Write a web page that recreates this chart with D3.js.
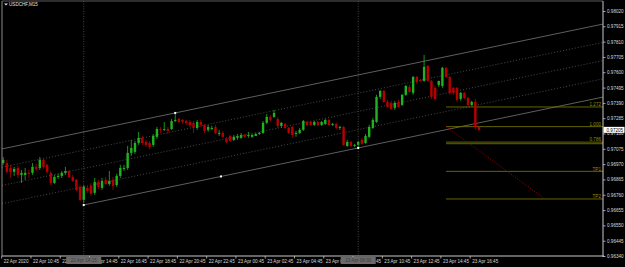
<!DOCTYPE html>
<html>
<head>
<meta charset="utf-8">
<script src="https://cdn.jsdelivr.net/npm/d3@7"></script>
<style>
html, body { margin: 0; padding: 0; background: #000; }
svg { display: block; }
text { font-family: "Liberation Sans", Arial, sans-serif; }
</style>
</head>
<body>
<svg id="chart" width="625" height="267"></svg>
<script>
const symbolTitle = 'USDCHF,M15';

// M15 bars, first bar 22 Apr 08:45
const barOpen = [
  0.96978, 0.96978, 0.96944, 0.96917, 0.96944, 0.96896, 0.96896, 0.96910, 0.96910, 0.96951,
  0.96944, 0.96999, 0.96965, 0.96910, 0.96841, 0.96882, 0.96889, 0.96910, 0.96923, 0.96882,
  0.96862, 0.96814, 0.96725, 0.96807, 0.96821, 0.96773, 0.96848, 0.96807, 0.96862, 0.96834,
  0.96862, 0.96827, 0.96889, 0.96937, 0.96944, 0.97047, 0.97054, 0.97115, 0.97150, 0.97122,
  0.97115, 0.97102, 0.97157, 0.97211, 0.97205, 0.97211, 0.97211, 0.97266, 0.97280, 0.97273,
  0.97266, 0.97259, 0.97253, 0.97218, 0.97259, 0.97239, 0.97205, 0.97211, 0.97225, 0.97177,
  0.97184, 0.97143, 0.97163, 0.97136, 0.97150, 0.97150, 0.97170, 0.97163, 0.97157, 0.97163,
  0.97177, 0.97184, 0.97253, 0.97294, 0.97294, 0.97280, 0.97232, 0.97246, 0.97218, 0.97225,
  0.97177, 0.97184, 0.97205, 0.97259, 0.97259, 0.97239, 0.97259, 0.97239, 0.97246, 0.97273,
  0.97239, 0.97246, 0.97218, 0.97225, 0.97095, 0.97122, 0.97095, 0.97102, 0.97136, 0.97115,
  0.97157, 0.97218, 0.97259, 0.97431, 0.97472, 0.97397, 0.97390, 0.97356, 0.97397, 0.97376,
  0.97445, 0.97499, 0.97459, 0.97568, 0.97547, 0.97541, 0.97643, 0.97541, 0.97493, 0.97513,
  0.97506, 0.97630, 0.97568, 0.97493, 0.97493, 0.97417, 0.97459, 0.97424, 0.97376, 0.97397,
  0.97225
];
const barHigh = [
  0.97019, 0.96999, 0.96965, 0.96951, 0.96958, 0.96930, 0.96944, 0.96930, 0.96978, 0.96971,
  0.97019, 0.97013, 0.96971, 0.96923, 0.96896, 0.96903, 0.96923, 0.96951, 0.96930, 0.96896,
  0.96869, 0.96827, 0.96827, 0.96821, 0.96841, 0.96875, 0.96862, 0.96875, 0.96882, 0.96923,
  0.96882, 0.96903, 0.96965, 0.96965, 0.97095, 0.97136, 0.97129, 0.97191, 0.97163, 0.97136,
  0.97129, 0.97177, 0.97225, 0.97225, 0.97259, 0.97225, 0.97280, 0.97321, 0.97287, 0.97280,
  0.97273, 0.97273, 0.97266, 0.97273, 0.97273, 0.97246, 0.97239, 0.97232, 0.97239, 0.97205,
  0.97198, 0.97157, 0.97170, 0.97170, 0.97177, 0.97184, 0.97177, 0.97191, 0.97177, 0.97184,
  0.97191, 0.97266, 0.97314, 0.97307, 0.97342, 0.97294, 0.97259, 0.97253, 0.97225, 0.97232,
  0.97198, 0.97218, 0.97273, 0.97266, 0.97266, 0.97266, 0.97266, 0.97266, 0.97280, 0.97280,
  0.97253, 0.97253, 0.97232, 0.97232, 0.97136, 0.97129, 0.97109, 0.97129, 0.97150, 0.97177,
  0.97239, 0.97287, 0.97445, 0.97479, 0.97479, 0.97410, 0.97404, 0.97404, 0.97410, 0.97451,
  0.97513, 0.97513, 0.97575, 0.97575, 0.97554, 0.97719, 0.97650, 0.97547, 0.97506, 0.97541,
  0.97637, 0.97637, 0.97575, 0.97499, 0.97499, 0.97465, 0.97465, 0.97431, 0.97404, 0.97417,
  0.97232
];
const barLow = [
  0.96965, 0.96903, 0.96875, 0.96889, 0.96875, 0.96841, 0.96862, 0.96875, 0.96896, 0.96923,
  0.96930, 0.96937, 0.96903, 0.96827, 0.96834, 0.96869, 0.96875, 0.96896, 0.96875, 0.96848,
  0.96786, 0.96718, 0.96704, 0.96773, 0.96752, 0.96759, 0.96800, 0.96793, 0.96827, 0.96821,
  0.96793, 0.96814, 0.96875, 0.96923, 0.96930, 0.97026, 0.97040, 0.97102, 0.97102, 0.97088,
  0.97074, 0.97088, 0.97143, 0.97184, 0.97198, 0.97177, 0.97205, 0.97259, 0.97253, 0.97246,
  0.97239, 0.97225, 0.97184, 0.97205, 0.97225, 0.97184, 0.97191, 0.97205, 0.97177, 0.97163,
  0.97150, 0.97115, 0.97122, 0.97129, 0.97136, 0.97143, 0.97150, 0.97150, 0.97150, 0.97163,
  0.97170, 0.97177, 0.97246, 0.97259, 0.97287, 0.97218, 0.97218, 0.97211, 0.97177, 0.97150,
  0.97157, 0.97177, 0.97198, 0.97232, 0.97232, 0.97232, 0.97232, 0.97232, 0.97239, 0.97232,
  0.97232, 0.97211, 0.97205, 0.97095, 0.97088, 0.97088, 0.97088, 0.97081, 0.97102, 0.97109,
  0.97150, 0.97211, 0.97253, 0.97417, 0.97390, 0.97356, 0.97342, 0.97342, 0.97356, 0.97369,
  0.97438, 0.97459, 0.97445, 0.97520, 0.97534, 0.97534, 0.97534, 0.97417, 0.97410, 0.97499,
  0.97493, 0.97561, 0.97445, 0.97445, 0.97397, 0.97404, 0.97417, 0.97362, 0.97369, 0.97205,
  0.97198
];
const barClose = [
  0.96999, 0.96917, 0.96917, 0.96937, 0.96896, 0.96910, 0.96910, 0.96903, 0.96951, 0.96937,
  0.96999, 0.96951, 0.96917, 0.96841, 0.96882, 0.96889, 0.96910, 0.96923, 0.96882, 0.96855,
  0.96793, 0.96725, 0.96814, 0.96786, 0.96766, 0.96848, 0.96814, 0.96855, 0.96834, 0.96855,
  0.96821, 0.96889, 0.96944, 0.96944, 0.97047, 0.97081, 0.97115, 0.97150, 0.97115, 0.97102,
  0.97088, 0.97163, 0.97211, 0.97205, 0.97211, 0.97198, 0.97266, 0.97273, 0.97259, 0.97259,
  0.97253, 0.97239, 0.97218, 0.97259, 0.97239, 0.97198, 0.97225, 0.97218, 0.97184, 0.97184,
  0.97157, 0.97122, 0.97129, 0.97157, 0.97163, 0.97170, 0.97157, 0.97170, 0.97170, 0.97177,
  0.97184, 0.97253, 0.97294, 0.97273, 0.97321, 0.97232, 0.97253, 0.97218, 0.97184, 0.97170,
  0.97184, 0.97205, 0.97266, 0.97239, 0.97239, 0.97259, 0.97239, 0.97259, 0.97273, 0.97239,
  0.97246, 0.97218, 0.97225, 0.97102, 0.97122, 0.97095, 0.97102, 0.97122, 0.97109, 0.97163,
  0.97225, 0.97273, 0.97431, 0.97472, 0.97397, 0.97362, 0.97349, 0.97390, 0.97362, 0.97445,
  0.97506, 0.97465, 0.97568, 0.97534, 0.97541, 0.97637, 0.97541, 0.97431, 0.97417, 0.97541,
  0.97630, 0.97568, 0.97459, 0.97459, 0.97410, 0.97459, 0.97424, 0.97376, 0.97397, 0.97225,
  0.97205
];

const priceTicks = [0.98020, 0.97915, 0.97810, 0.97705, 0.97600, 0.97495, 0.97390, 0.97285,
  0.97180, 0.97075, 0.96970, 0.96865, 0.96760, 0.96655, 0.96550, 0.96445, 0.96340];
const priceMin = 0.96340;
const priceMax = 0.98020;
const lastPrice = 0.97205;

const timeLabels = ['22 Apr 2020', '22 Apr 10:45', '22 Apr 12:45', '22 Apr 14:45', '22 Apr 16:45',
  '22 Apr 18:45', '22 Apr 20:45', '22 Apr 22:45', '23 Apr 00:45', '23 Apr 02:45', '23 Apr 04:45',
  '23 Apr 06:45', '23 Apr 08:45', '23 Apr 10:45', '23 Apr 12:45', '23 Apr 14:45', '23 Apr 16:45'];
const timeLabelBars = [0, 8, 16, 24, 32, 40, 48, 56, 64, 72, 80, 88, 96, 104, 112, 120, 128];

const vLineBars = [22, 97];
const vLineLabels = ['22 Apr 14:15', '23 Apr 09:00'];

// equidistant channel: two points on the base line, one on the far line
const channelBars = [22, 97, 47];
const channelPrices = [0.96690, 0.97081, 0.97321];
const channelLevels = [0, 0.25, 0.5, 0.75, 1];

// fibonacci: from point A to point B
const fibBars = [121, 148];
const fibPrices = [0.97227, 0.96731];
const fibLevels = [1.272, 1, 0.786, 0.764, 0.382, 0];
const fibLabels = ['1.272', '1.000', '0.786', '', 'TP1', 'TP2'];

const width = 625, height = 267;
const plot = { left: 2, top: 1, right: 603, bottom: 256 };
const fontSize = 4.6;

const svg = d3.select('#chart');
svg.append('rect').attr('width', width).attr('height', height).attr('fill', '#000');

const x = d3.scaleLinear().domain([0, 130]).range([3.2, 479]);
const y = d3.scaleLinear().domain([priceMin, priceMax]).range([256, 11]);

svg.append('clipPath').attr('id', 'plotClip').append('rect')
  .attr('x', plot.left).attr('y', plot.top)
  .attr('width', plot.right - plot.left).attr('height', plot.bottom - plot.top);

const area = svg.append('g').attr('clip-path', 'url(#plotClip)');
const barLeft = x.invert(plot.left);
const barRight = x.invert(plot.right);

// vertical line objects
area.selectAll('.vline').data(vLineBars).enter().append('line')
  .attr('x1', d => x(d)).attr('x2', d => x(d))
  .attr('y1', plot.top).attr('y2', plot.bottom)
  .attr('stroke', '#555').attr('stroke-width', 0.8)
  .attr('stroke-dasharray', '1,1.5');

// channel
const chSlope = (channelPrices[1] - channelPrices[0]) / (channelBars[1] - channelBars[0]);
const chBase = b => channelPrices[0] + (b - channelBars[0]) * chSlope;
const chWidth = channelPrices[2] - chBase(channelBars[2]);
area.selectAll('.chan').data(channelLevels).enter().append('line')
  .attr('x1', d => x(d === 0 ? channelBars[0] : barLeft))
  .attr('y1', d => y(chBase(d === 0 ? channelBars[0] : barLeft) + d * chWidth))
  .attr('x2', x(barRight))
  .attr('y2', d => y(chBase(barRight) + d * chWidth))
  .attr('stroke', d => (d === 0 || d === 1) ? '#767676' : '#5c5c5c')
  .attr('stroke-width', 0.8)
  .attr('stroke-dasharray', d => (d === 0 || d === 1) ? null : '1,2');

// fibonacci levels
const fibPrice = lvl => fibPrices[1] + lvl * (fibPrices[0] - fibPrices[1]);
area.selectAll('.fib').data(fibLevels).enter().append('line')
  .attr('x1', x(fibBars[0])).attr('x2', plot.right)
  .attr('y1', d => y(fibPrice(d))).attr('y2', d => y(fibPrice(d)))
  .attr('stroke', '#6f6f00').attr('stroke-width', 0.9);
area.selectAll('.fibtxt').data(fibLevels).enter().append('text')
  .attr('x', plot.right - 2).attr('y', d => y(fibPrice(d)) - 0.8)
  .attr('text-anchor', 'end').attr('fill', '#8f8f00')
  .style('font-size', fontSize + 'px')
  .text((d, i) => fibLabels[i]);
area.append('line')
  .attr('x1', x(fibBars[0])).attr('y1', y(fibPrices[0]))
  .attr('x2', x(fibBars[1])).attr('y2', y(fibPrices[1]))
  .attr('stroke', '#b00000').attr('stroke-width', 0.9)
  .attr('stroke-dasharray', '1,1.6');

// candles
const bars = d3.range(barClose.length);
const candleColor = i => barClose[i] >= barOpen[i] ? '#1fb41f' : '#b80000';
const candles = area.append('g');
candles.selectAll('.wick').data(bars).enter().append('line')
  .attr('x1', i => x(i)).attr('x2', i => x(i))
  .attr('y1', i => y(barHigh[i])).attr('y2', i => y(barLow[i]))
  .attr('stroke', candleColor).attr('stroke-width', 0.8);
candles.selectAll('.body').data(bars).enter().append('rect')
  .attr('x', i => x(i) - 1.2).attr('width', 2.4)
  .attr('y', i => y(Math.max(barOpen[i], barClose[i])))
  .attr('height', i => Math.max(0.8, Math.abs(y(barOpen[i]) - y(barClose[i]))))
  .attr('fill', candleColor);

// selection handles of the channel
const handleBars = [channelBars[0], channelBars[1], (channelBars[0] + channelBars[1]) / 2, channelBars[2]];
area.selectAll('.handle').data(handleBars).enter().append('rect')
  .attr('x', d => x(d) - 1).attr('width', 2).attr('height', 2)
  .attr('y', (d, i) => y(i < 3 ? chBase(d) : channelPrices[2]) - 1)
  .attr('fill', '#ffffff');

// frame
const frame = svg.append('g').attr('fill', 'none');
frame.append('line').attr('x1', plot.left).attr('x2', plot.left).attr('y1', plot.top).attr('y2', plot.bottom)
  .attr('stroke', '#8a8a8a').attr('stroke-width', 1);
frame.append('line').attr('x1', plot.left).attr('x2', plot.right).attr('y1', plot.top).attr('y2', plot.top)
  .attr('stroke', '#5a5a5a').attr('stroke-width', 1);

// price axis
const yAxis = svg.append('g').attr('transform', `translate(${plot.right},0)`)
  .call(d3.axisRight(y).tickValues(priceTicks).tickSize(2.5).tickPadding(1.5)
    .tickFormat(d3.format('.5f')));
yAxis.select('.domain').remove();
yAxis.selectAll('.tick line').attr('stroke', '#c8c8c8').attr('stroke-width', 0.8);
yAxis.selectAll('.tick text').attr('fill', '#d8d8d8').style('font-size', fontSize + 'px')
  .style('font-family', '"Liberation Sans", Arial, sans-serif');
svg.append('line').attr('x1', plot.right).attr('x2', plot.right).attr('y1', plot.top).attr('y2', plot.bottom + 1)
  .attr('stroke', '#c8c8c8').attr('stroke-width', 1);

// current price label
const lp = svg.append('g').attr('transform', `translate(${plot.right},${y(lastPrice)})`);
lp.append('rect').attr('x', 0.5).attr('y', -3).attr('width', 21).attr('height', 6).attr('fill', '#ffffff');
lp.append('text').attr('x', 3.5).attr('y', 1.7).attr('fill', '#000')
  .style('font-size', fontSize + 'px').text(d3.format('.5f')(lastPrice));

// time axis
svg.append('line').attr('x1', plot.left).attr('x2', plot.right + 1).attr('y1', plot.bottom).attr('y2', plot.bottom)
  .attr('stroke', '#c8c8c8').attr('stroke-width', 1);
const xAxis = svg.append('g').attr('transform', `translate(-2,${plot.bottom})`)
  .call(d3.axisBottom(x).tickValues(timeLabelBars).tickSize(2.5).tickPadding(1.2)
    .tickFormat((d, i) => timeLabels[i]));
xAxis.select('.domain').remove();
xAxis.selectAll('.tick line').attr('stroke', '#c8c8c8').attr('stroke-width', 0.8);
xAxis.selectAll('.tick text').attr('fill', '#d8d8d8').attr('text-anchor', 'start').attr('dx', 2)
  .style('font-size', fontSize + 'px').style('font-family', '"Liberation Sans", Arial, sans-serif');

// labels of vertical lines on the time axis
const vl = svg.selectAll('.vlabel').data(vLineBars).enter().append('g')
  .attr('transform', d => `translate(${x(d)},${plot.bottom + 1})`);
vl.append('rect').attr('x', -17.5).attr('y', 0).attr('width', 35).attr('height', 7).attr('fill', '#6a6a6a');
vl.append('text').attr('x', 0).attr('y', 5).attr('text-anchor', 'middle').attr('fill', '#3a3a3a')
  .style('font-size', fontSize + 'px').text((d, i) => vLineLabels[i]);

// title
svg.append('path').attr('d', 'M4,3.5 L8,3.5 L6,5.5 Z').attr('fill', '#e0e0e0');
svg.append('text').attr('x', 9).attr('y', 6.2).attr('fill', '#e0e0e0')
  .style('font-size', fontSize + 'px').text(symbolTitle);
</script>
</body>
</html>
